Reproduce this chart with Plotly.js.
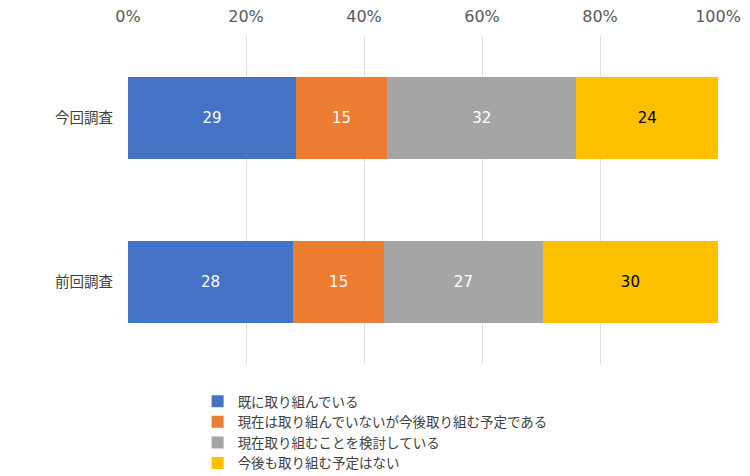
<!DOCTYPE html>
<html>
<head>
<meta charset="utf-8">
<script src="https://cdn.plot.ly/plotly-3.0.1.min.js"></script>
<style>html,body{margin:0;padding:0;background:#fff;}#chart{width:750px;height:476px;}</style>
</head>
<body>
<div id="chart"></div>
<script>
const categories = ['今回調査', '前回調査'];
const seriesNames = ['既に取り組んでいる', '現在は取り組んでいないが今後取り組む予定である', '現在取り組むことを検討している', '今後も取り組む予定はない'];
const already = [28.5, 28.0];
const planned = [15.4, 15.4];
const considering = [32.1, 26.9];
const noPlan = [24.0, 29.7];
const tickVals = [0, 20, 40, 60, 80, 100];
const tickText = ['0%', '20%', '40%', '60%', '80%', '100%'];

const colors = ['#4472C4', '#ED7D31', '#A5A5A5', '#FFC000'];
const textColors = ['#ffffff', '#ffffff', '#ffffff', '#000000'];
const jpFont = '"Noto Sans CJK JP", "Noto Sans", sans-serif';
const numFont = '"DejaVu Sans", "Noto Sans CJK JP", sans-serif';

const values = [already, planned, considering, noPlan];
const traces = values.map((v, i) => ({
  type: 'bar',
  orientation: 'h',
  name: seriesNames[i],
  y: categories,
  x: v,
  marker: {color: colors[i], line: {width: 0}},
  texttemplate: '%{x:.0f}',
  textposition: 'inside',
  insidetextanchor: 'middle',
  textangle: 0,
  textfont: {color: textColors[i], size: 15, family: numFont},
  hoverinfo: 'skip'
}));

const layout = {
  width: 750, height: 476,
  margin: {l: 128, r: 32, t: 36, b: 112, autoexpand: false},
  barmode: 'stack',
  bargap: 0.5,
  paper_bgcolor: '#fff', plot_bgcolor: '#fff',
  font: {family: jpFont, color: '#595959', size: 14},
  xaxis: {
    side: 'top', range: [0, 100], tickvals: tickVals, ticktext: tickText,
    showgrid: true, gridcolor: '#e0e0e0', gridwidth: 1, zeroline: false,
    showline: false, ticks: '', ticklabelstandoff: 10,
    tickfont: {size: 16, color: '#595959', family: numFont},
    fixedrange: true
  },
  yaxis: {
    autorange: 'reversed', showgrid: false, zeroline: false, showline: false,
    ticks: '', ticklabelstandoff: 14, tickfont: {size: 14.5, color: '#404040', family: jpFont}
  },
  showlegend: true,
  legend: {
    orientation: 'v', xref: 'container', yref: 'container',
    x: 0.2635, xanchor: 'left', y: 0.189, yanchor: 'top',
    traceorder: 'normal', font: {size: 13.5, color: '#404040', family: jpFont},
    itemwidth: 30, tracegroupgap: 0, bgcolor: 'rgba(0,0,0,0)'
  }
};

Plotly.newPlot('chart', traces, layout, {displayModeBar: false, staticPlot: true});
</script>
</body>
</html>
